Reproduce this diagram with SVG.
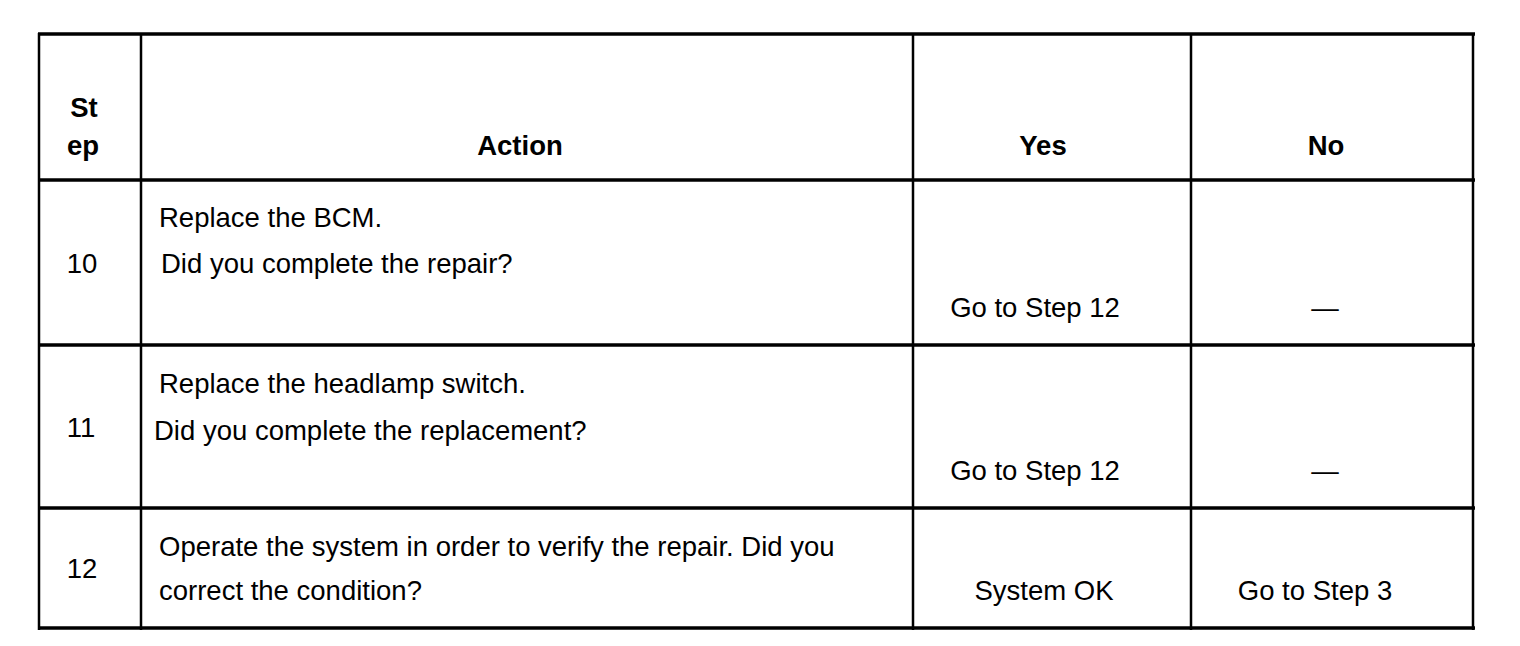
<svg xmlns="http://www.w3.org/2000/svg" width="1520" height="646" viewBox="0 0 1520 646">
<style>
.t{font-family:"Liberation Sans",Arial,sans-serif;font-size:27.5px;fill:#000}
.b{font-weight:bold}
.c{text-anchor:middle}
.h{stroke:#000;stroke-width:3.5;fill:none}
.v{stroke:#000;stroke-width:2.5;fill:none}
</style>
<rect width="1520" height="646" fill="#fff"/>
<g id="grid">
<line class="h" x1="38" y1="34" x2="1475" y2="34"/>
<line class="h" x1="38" y1="180" x2="1475" y2="180"/>
<line class="h" x1="38" y1="345" x2="1475" y2="345"/>
<line class="h" x1="38" y1="508" x2="1475" y2="508"/>
<line class="h" x1="38" y1="628" x2="1475" y2="628"/>
<line class="v" x1="39" y1="33" x2="39" y2="630"/>
<line class="v" x1="141" y1="33" x2="141" y2="630"/>
<line class="v" x1="913" y1="33" x2="913" y2="630"/>
<line class="v" x1="1191" y1="33" x2="1191" y2="630"/>
<line class="v" x1="1473" y1="33" x2="1473" y2="630"/>
</g>
<g id="header">
<text class="t b c" x="84" y="117">St</text>
<text class="t b c" x="83" y="155">ep</text>
<text class="t b c" x="520" y="155">Action</text>
<text class="t b c" x="1043" y="155">Yes</text>
<text class="t b c" x="1326" y="155">No</text>
</g>
<g id="row10">
<text class="t c" x="82" y="273">10</text>
<text class="t" x="159" y="227">Replace the BCM.</text>
<text class="t" x="161" y="273">Did you complete the repair?</text>
<text class="t c" x="1035" y="317">Go to Step 12</text>
<text class="t c" x="1325" y="317">—</text>
</g>
<g id="row11">
<text class="t c" x="81" y="437">11</text>
<text class="t" x="159" y="393">Replace the headlamp switch.</text>
<text class="t" x="154" y="440">Did you complete the replacement?</text>
<text class="t c" x="1035" y="480">Go to Step 12</text>
<text class="t c" x="1325" y="480">—</text>
</g>
<g id="row12">
<text class="t c" x="82" y="578">12</text>
<text class="t" x="159" y="556">Operate the system in order to verify the repair. Did you</text>
<text class="t" x="159" y="600">correct the condition?</text>
<text class="t c" x="1044" y="600">System OK</text>
<text class="t c" x="1315" y="600">Go to Step 3</text>
</g>
</svg>
